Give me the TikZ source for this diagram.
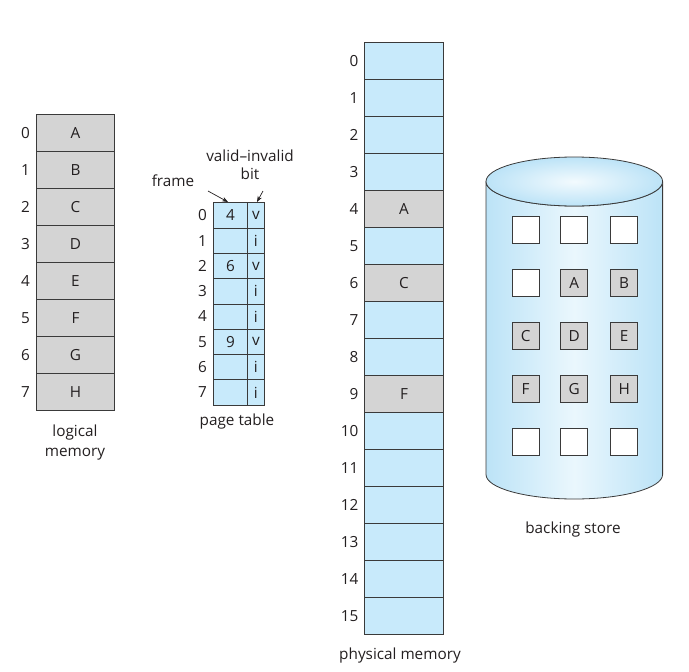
\documentclass[tikz,border=0pt]{standalone}
\usepackage{fontspec}
\setmainfont{Open Sans}
\usetikzlibrary{arrows.meta}
\definecolor{cellblue}{HTML}{C8EAFB}
\definecolor{cellgray}{HTML}{D4D4D4}
\definecolor{ink}{HTML}{231F20}
\definecolor{linec}{HTML}{3A3A3A}
\definecolor{cylblue}{HTML}{BCE3F7}
\definecolor{cylmid}{HTML}{EAF7FD}
\begin{document}
\begin{tikzpicture}[x=1pt,y=-1pt,
  every node/.style={font=\fontsize{15.3}{20}\selectfont, text=ink},
  cell/.style={draw=linec, line width=0.8pt, inner sep=0pt, outer sep=0pt, anchor=north west},
  lmcell/.style={cell, fill=cellgray, minimum width=78pt, minimum height=37pt},
  pmcell/.style={cell, fill=cellblue, minimum width=79pt, minimum height=37pt},
  ptframe/.style={cell, fill=cellblue, minimum width=34.4pt, minimum height=25.3pt},
  ptbit/.style={cell, fill=cellblue, minimum width=16.3pt, minimum height=25.3pt},
  sq/.style={draw=linec, line width=0.8pt, minimum size=27pt, inner sep=0pt, anchor=north west},
  idx/.style={inner sep=0pt, anchor=east},
  captxt/.style={inner sep=0pt, align=center},
  pointer/.style={draw=ink, line width=0.7pt, -{Stealth[length=6pt,width=4.5pt]}}
]
\useasboundingbox (0,0) rectangle (689,672);

% logical memory
\foreach \i/\l in {0/A,1/B,2/C,3/D,4/E,5/F,6/G,7/H}{
  \node[lmcell] (L\i) at (36.5,{114.5+37*\i}) {\l};
  \node[idx] (Li\i) at (30,{133+37*\i}) {\i};
}
\node[captxt] (lmcap) at (75,443) {logical\\memory};

% page table
\foreach \i/\f/\b in {0/4/v,1//i,2/6/v,3//i,4//i,5/9/v,6//i,7//i}{
  \node[ptframe] (F\i) at (213.3,{202.7+25.3*\i}) {\f};
  \node[ptbit] (B\i) at (247.7,{202.7+25.3*\i}) {\b};
  \node[idx] (Pi\i) at (207,{215.3+25.3*\i}) {\i};
}
\node[captxt] (ptcap) at (237,422) {page table};
\node[captxt] (vi) at (250,156) {valid–invalid};
\node[captxt] (bit) at (250,174) {bit};
\node[captxt] (frame) at (173,181) {frame};
\coordinate (fs) at (208,191);
\coordinate (fe) at (228,202);
\coordinate (bs) at (263,191);
\coordinate (be) at (257,202);
\draw[pointer] (fs) -- (fe);
\draw[pointer] (bs) -- (be);

% physical memory
\foreach \i in {0,...,15}{
  \node[pmcell] (P\i) at (364.5,{42.7+37*\i}) {};
  \node[idx] (Ppi\i) at (358.5,{61.2+37*\i}) {\i};
}
\foreach \i/\l in {4/A,6/C,9/F}{
  \node[pmcell, fill=cellgray] (PA\i) at (364.5,{42.7+37*\i}) {\l};
}
\node[captxt] (pmcap) at (400,656) {physical memory};

% backing store cylinder
\path[left color=cylblue, right color=cylblue, middle color=cylmid, draw=linec, line width=0.8pt]
  (486,181.5) -- (486,474.5) arc[start angle=180, end angle=0, x radius=88.3, y radius=24.5]
  -- (662.6,181.5) arc[start angle=0, end angle=180, x radius=88.3, y radius=24.5] -- cycle;
\path[inner color=cylmid!60!white, outer color=cylblue, draw=linec, line width=0.8pt]
  (574.3,181.5) ellipse[x radius=88.3, y radius=24.5];
\foreach \r/\y in {0/216,1/269.3,2/321.7,3/375,4/428.3}{
  \foreach \c/\x in {0/511.7,1/560.3,2/610.3}{
    \node[sq, fill=white] (S\r\c) at (\x,\y) {};
  }
}
\foreach \r/\c/\l in {1/1/A,1/2/B,2/0/C,2/1/D,2/2/E,3/0/F,3/1/G,3/2/H}{
  \node[sq, fill=cellgray] (T\r\c) at (S\r\c.north west) {\l};
}
\node[captxt] (bscap) at (573,530) {backing store};
\end{tikzpicture}
\end{document}
